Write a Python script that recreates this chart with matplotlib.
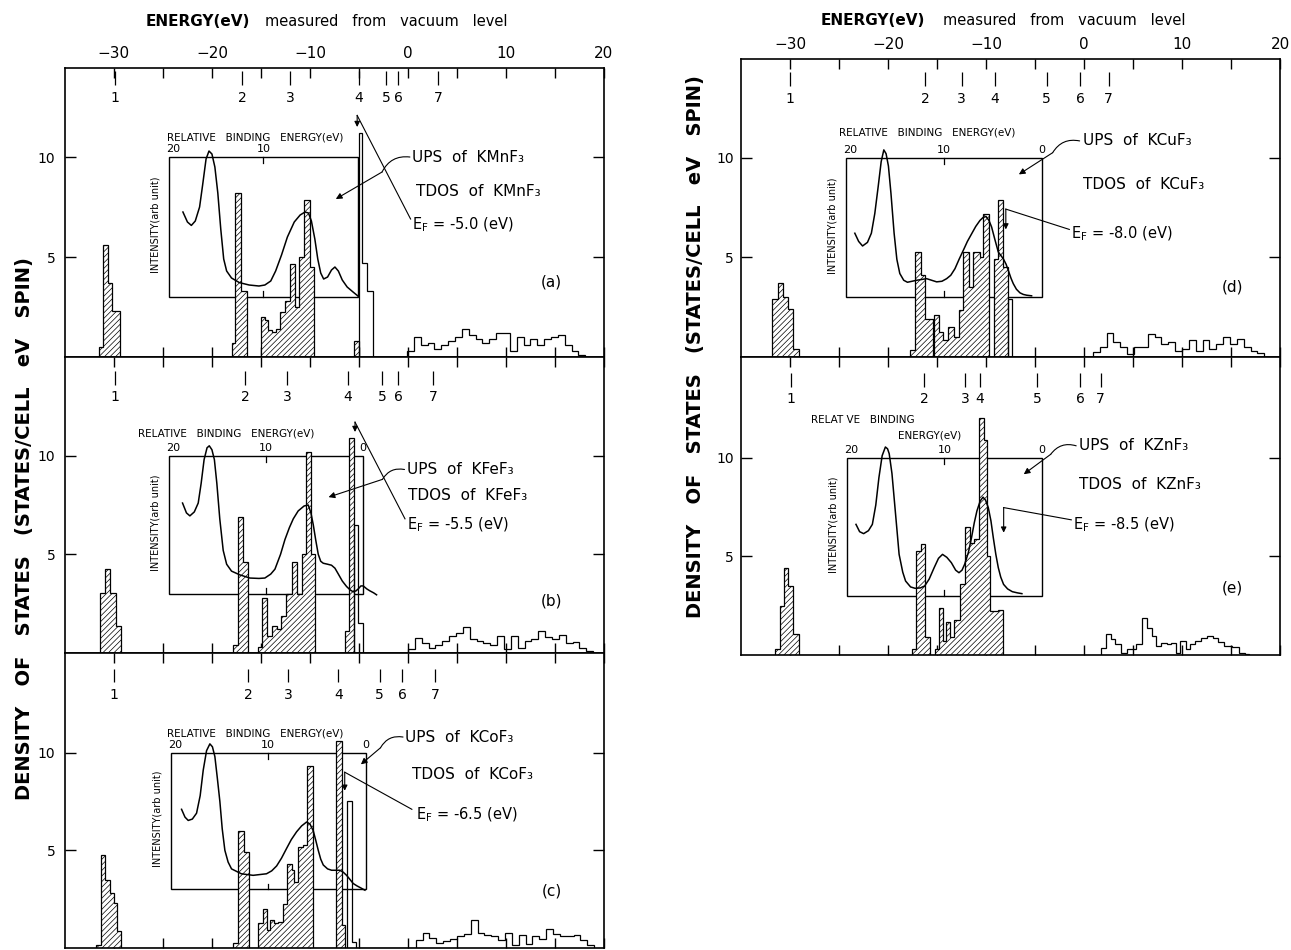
import numpy as np
import matplotlib
matplotlib.use("Agg")
import matplotlib.pyplot as plt
from matplotlib.patches import Rectangle

plt.rcParams['font.family'] = ['DejaVu Sans']
plt.rcParams['hatch.linewidth'] = 0.5
plt.rcParams['axes.linewidth'] = 1.2

# =========================================================
# DATA  (energy in eV from vacuum level, DOS in states/cell eV spin)
# =========================================================

# ---- (a) KMnF3
a_occ_edges = [-31.5, -31.1, -30.6, -30.2, -29.4,
               -18.0, -17.6, -17.0, -16.4,
               -15.0, -14.56, -14.29, -13.84, -13.44, -13.03, -12.59, -12.01, -11.5, -11.16,
               -10.61, -10.03, -9.59,
               -5.5, -5.0]
a_occ_dos = [0.5, 5.6, 3.7, 2.3, 0,
             0.7, 8.2, 3.3, 0,
             2.0, 1.83, 1.33, 1.25, 1.42, 2.25, 2.8, 4.67, 2.5, 5.0, 7.83, 4.5, 0,
             0.8]
a_emp_edges = [-5.0, -4.7, -4.2, -3.55,
               -0.1, 0.6, 1.3, 2.0, 2.7, 3.4, 4.1, 4.8, 5.5, 6.2, 6.9, 7.6, 8.3, 9.0, 9.7,
               10.4, 11.1, 11.8, 12.5, 13.2, 13.9, 14.6, 15.3, 16.0, 16.7, 17.4, 18.1]
a_emp_dos = [11.2, 4.7, 3.3, 0,
             0.3, 1.0, 0.6, 0.7, 0.4, 0.6, 0.8, 1.0, 1.4, 1.1, 0.9, 0.7, 0.9, 1.2, 1.2,
             0.3, 1.0, 0.6, 0.9, 0.6, 0.9, 1.0, 1.1, 0.6, 0.3, 0.1]
a_ups_e = [-22.96, -22.5, -22.1, -21.7, -21.26, -20.95, -20.6, -20.3, -20.0, -19.7, -19.4,
           -19.1, -18.8, -18.5, -18.0, -17.2, -16.2, -15.2, -14.6, -14.0, -13.5, -12.9,
           -12.3, -11.6, -11.0, -10.5, -10.15, -9.85, -9.5, -9.2, -8.9, -8.6, -8.2, -7.8,
           -7.45, -7.1, -6.7, -6.2, -5.6, -5.1]
a_ups_i = [7.25, 6.75, 6.58, 6.8, 7.5, 8.6, 9.9, 10.3, 10.15, 9.5, 8.2,
           6.4, 4.9, 4.3, 3.95, 3.72, 3.6, 3.55, 3.6, 3.8, 4.3, 5.1,
           6.0, 6.75, 7.1, 7.25, 7.2, 6.8, 5.9, 4.9, 4.2, 3.9, 4.0, 4.35,
           4.5, 4.3, 3.85, 3.5, 3.25, 3.05]
a_marks = [-29.9, -16.9, -12.05, -5.0, -2.2, -1.0, 3.1]

# ---- (b) KFeF3
b_occ_edges = [-31.4, -30.9, -30.4, -29.8, -29.3,
               -17.85, -17.3, -16.8, -16.3,
               -15.3, -14.87, -14.36, -13.85, -13.4, -12.96, -12.49, -11.87, -11.36, -10.85,
               -10.42, -9.9, -9.45,
               -6.4, -6.0, -5.5]
b_occ_dos = [3.05, 4.24, 3.05, 1.36, 0,
             0.4, 6.9, 4.6, 0,
             0.3, 2.8, 0.85, 1.35, 1.2, 1.9, 3.0, 4.6, 3.0, 5.0, 10.2, 5.0, 0,
             1.1, 10.9]
b_emp_edges = [-5.5, -5.05, -4.6,
               0.0, 0.7, 1.4, 2.1, 2.8, 3.5, 4.2, 4.9, 5.6, 6.3, 7.0, 7.7, 8.4, 9.1, 9.8,
               10.5, 11.2, 11.9, 12.6, 13.3, 14.0, 14.7, 15.4, 16.1, 16.8, 17.5, 18.2, 18.9]
b_emp_dos = [6.5, 1.5, 0,
             0.2, 0.75, 0.5, 0.25, 0.4, 0.6, 0.85, 1.0, 1.3, 0.7, 0.6, 0.5, 0.4, 0.85,
             0.2, 0.85, 0.25, 0.6, 0.7, 1.1, 0.8, 0.7, 0.9, 0.5, 0.55, 0.25, 0.1]
b_ups_e = [-23.0, -22.6, -22.25, -21.8, -21.4, -21.1, -20.8, -20.5, -20.27, -20.0, -19.75,
           -19.5, -19.2, -18.85, -18.5, -18.0, -17.15, -16.13, -15.2, -14.6, -14.0, -13.57,
           -13.0, -12.55, -12.1, -11.7, -11.2, -10.6, -10.17, -9.9, -9.66, -9.4, -9.15,
           -8.9, -8.64, -8.2, -7.8, -7.45, -7.1, -6.7, -6.26, -5.9, -5.58, -5.3, -5.07,
           -4.8, -4.56, -4.2, -3.88, -3.5, -3.2]
b_ups_i = [7.6, 7.1, 6.95, 7.15, 7.6, 8.6, 9.8, 10.4, 10.5, 10.3, 9.8,
           8.6, 6.8, 5.2, 4.5, 4.15, 3.96, 3.8, 3.78, 3.8, 4.0, 4.25,
           5.0, 5.75, 6.35, 6.8, 7.2, 7.45, 7.5, 7.1, 6.5, 5.7, 5.0,
           4.65, 4.55, 4.5, 4.45, 4.3, 4.0, 3.65, 3.37, 3.2, 3.1, 3.15, 3.25,
           3.4, 3.4, 3.25, 3.15, 3.05, 2.95]
b_marks = [-29.9, -16.6, -12.3, -6.1, -2.6, -1.0, 2.6]

# ---- (c) KCoF3
c_occ_edges = [-31.85, -31.35, -30.9, -30.45, -30.0, -29.7, -29.3,
               -17.9, -17.35, -16.75, -16.2,
               -15.28, -14.77, -14.36, -14.09, -13.68, -13.24, -12.73, -12.32, -11.87, -11.64,
               -11.2, -10.69, -10.28, -9.65,
               -7.3, -6.7, -6.4]
c_occ_dos = [0.17, 4.75, 3.47, 2.8, 2.3, 0.85, 0,
             0.25, 6.0, 4.9, 0,
             1.26, 2.02, 0.92, 1.43, 1.26, 1.34, 2.27, 4.3, 4.0, 3.4, 5.17, 5.25, 9.33, 0,
             10.6, 1.2]
c_emp_edges = [-6.25, -5.75, -5.3,
               0.8, 1.5, 2.2, 2.9, 3.6, 4.3, 5.0, 5.7, 6.4, 7.1, 7.8, 8.5, 9.2, 9.9, 10.6,
               11.3, 12.0, 12.7, 13.4, 14.1, 14.8, 15.5, 16.2, 16.9, 17.6, 18.3, 19.0]
c_emp_dos = [7.5, 0.3, 0,
             0.4, 0.75, 0.5, 0.25, 0.35, 0.45, 0.6, 0.7, 1.45, 0.75, 0.68, 0.6, 0.4, 0.75,
             0.15, 0.65, 0.2, 0.6, 0.45, 0.95, 0.7, 0.62, 0.6, 0.68, 0.4, 0.15]
c_ups_e = [-23.1, -22.75, -22.42, -22.0, -21.57, -21.2, -20.89, -20.55, -20.21, -19.95,
           -19.7, -19.45, -19.19, -18.95, -18.68, -18.35, -18.0, -17.0, -15.8, -14.43,
           -13.9, -13.4, -12.9, -12.38, -11.9, -11.36, -10.85, -10.34, -10.0, -9.66, -9.4,
           -9.15, -8.9, -8.64, -8.2, -7.79, -7.3, -6.94, -6.6, -6.26, -5.9, -5.58, -5.2,
           -4.9, -4.39]
c_ups_i = [7.1, 6.7, 6.53, 6.6, 6.9, 7.8, 9.1, 10.1, 10.45, 10.3,
           9.8, 8.7, 7.5, 6.1, 5.0, 4.4, 4.05, 3.8, 3.72, 3.8,
           3.95, 4.2, 4.6, 5.1, 5.55, 5.95, 6.25, 6.45, 6.35, 6.0, 5.5,
           5.0, 4.55, 4.25, 4.05, 3.98, 3.98, 3.98, 3.88, 3.72, 3.5, 3.3, 3.18,
           3.1, 2.96]
c_marks = [-30.0, -16.3, -12.2, -7.1, -2.9, -0.6, 2.8]

# ---- (d) KCuF3
d_occ_edges = [-31.83, -31.25, -30.74, -30.19, -29.69, -29.1,
               -17.76, -17.25, -16.67, -16.23, -15.45, -15.31, -14.77, -14.36, -13.85,
               -13.27, -12.73, -12.32, -11.7, -11.37, -10.62, -10.28, -9.66, -9.19, -8.74,
               -8.24, -7.73]
d_occ_dos = [2.93, 3.72, 3.0, 2.4, 0.4, 0,
             0.35, 5.27, 4.1, 1.93, 0, 2.1, 1.27, 0.85, 1.52, 1.02, 2.35, 5.27, 3.52,
             5.27, 5.0, 7.18, 0, 4.93, 7.88, 4.52]
d_emp_edges = [-7.73, -7.39,
               0.9, 1.6, 2.3, 3.0, 3.7, 4.4, 5.1, 5.8, 6.5, 7.2, 7.9, 8.6, 9.3, 10.0, 10.7,
               11.4, 12.1, 12.8, 13.5, 14.2, 14.9, 15.6, 16.3, 17.0, 17.7, 18.4]
d_emp_dos = [2.9, 0,
             0.25, 0.5, 1.2, 0.74, 0.49, 0.15, 0.49, 0.5, 1.16, 1.0, 0.66, 0.74, 0.32, 0.4,
             0.83, 0.32, 0.83, 0.4, 0.66, 1.0, 0.66, 0.9, 0.49, 0.32, 0.18]
d_ups_e = [-23.39, -23.0, -22.6, -22.1, -21.7, -21.35, -21.0, -20.7, -20.43, -20.2, -19.96,
           -19.7, -19.38, -19.1, -18.8, -18.4, -18.02, -17.08, -16.06, -15.04, -14.5,
           -14.02, -13.6, -13.17, -12.75, -12.32, -11.9, -11.47, -11.05, -10.62, -10.3,
           -10.0, -9.7, -9.43, -9.1, -8.75, -8.5, -8.24, -7.95, -7.73, -7.45, -7.22, -6.9,
           -6.54, -6.2, -5.85, -5.35]
d_ups_i = [6.21, 5.8, 5.57, 5.75, 6.21, 7.2, 8.57, 9.8, 10.39, 10.2, 9.58,
           8.2, 6.21, 4.9, 4.19, 3.85, 3.75, 3.85, 3.93, 3.77, 3.8,
           3.93, 4.1, 4.43, 4.9, 5.35, 5.8, 6.18, 6.55, 6.85, 7.0,
           7.05, 6.85, 6.52, 5.9, 5.27, 5.1, 4.93, 4.65, 4.35, 3.95, 3.68, 3.4,
           3.22, 3.14, 3.1, 3.07]
d_marks = [-30.0, -16.2, -12.5, -9.1, -3.8, -0.4, 2.5]

# ---- (e) KZnF3
e_occ_edges = [-31.56, -31.05, -30.66, -30.16, -29.69, -29.1,
               -17.59, -17.15, -16.67, -16.23, -15.72,
               -15.2, -14.77, -14.36, -14.09, -13.68, -13.27, -12.66, -12.15, -11.64, -11.23,
               -10.68, -10.21, -9.87, -9.6, -8.74, -8.3]
e_occ_dos = [0.29, 2.48, 4.39, 3.5, 1.08, 0,
             0.29, 5.28, 5.62, 0.9, 0,
             0.3, 2.4, 0.7, 1.65, 0.9, 1.75, 3.6, 6.5, 5.7, 5.9, 12.0, 10.9, 5.0, 2.25, 2.3]
e_emp_edges = [1.75, 2.22, 2.8, 3.19, 3.77, 4.36, 5.33, 5.91, 6.42, 6.89, 7.35, 7.86, 8.44,
               8.91, 9.42, 9.81, 10.39, 10.78, 11.36, 11.95, 12.53, 13.11, 13.7, 14.28, 15.06,
               15.84, 16.42, 16.81]
e_emp_dos = [0.35, 1.05, 0.79, 0.54, 0.12, 0.3, 0.54, 1.89, 1.39, 0.96, 0.46, 0.63, 0.54,
             0.63, 0.12, 0.71, 0.29, 0.54, 0.71, 0.84, 0.96, 0.84, 0.67, 0.46, 0.41, 0.12, 0.03]
e_ups_e = [-23.27, -22.9, -22.49, -22.0, -21.6, -21.25, -20.93, -20.6, -20.27, -20.05, -19.88,
           -19.6, -19.38, -19.1, -18.87, -18.5, -18.21, -17.7, -17.24, -16.7, -16.26, -15.8,
           -15.29, -14.85, -14.44, -14.0, -13.54, -13.1, -12.76, -12.45, -12.18, -11.8,
           -11.48, -11.2, -10.93, -10.6, -10.31, -10.05, -9.77, -9.5, -9.26, -9.0, -8.75,
           -8.5, -8.21, -7.8, -7.32, -6.8, -6.34]
e_ups_i = [6.62, 6.25, 6.15, 6.3, 6.62, 7.6, 8.99, 10.1, 10.54, 10.45, 10.2,
           9.2, 7.97, 6.4, 5.1, 4.2, 3.75, 3.45, 3.38, 3.4, 3.5, 3.85,
           4.43, 4.9, 5.1, 4.95, 4.68, 4.3, 4.17, 4.3, 4.6, 5.2,
           5.95, 6.7, 7.3, 7.8, 8.0, 7.85, 7.47, 6.8, 5.95, 5.1, 4.43,
           3.95, 3.58, 3.35, 3.21, 3.15, 3.11]
e_marks = [-29.9, -16.3, -12.1, -10.6, -4.8, -0.4, 1.7]

compounds = ['KMnF\u2083', 'KFeF\u2083', 'KCoF\u2083', 'KCuF\u2083', 'KZnF\u2083']
fermi = ['-5.0', '-5.5', '-6.5', '-8.0', '-8.5']
letters = ['(a)', '(b)', '(c)', '(d)', '(e)']

# =========================================================
# LAYOUT
# =========================================================
fig = plt.figure(figsize=(12.91, 9.5), dpi=100)
ax_a = fig.add_axes([0.0503, 0.6242, 0.4175, 0.3042])
ax_b = fig.add_axes([0.0503, 0.3126, 0.4175, 0.3116])
ax_c = fig.add_axes([0.0503, 0.0021, 0.4175, 0.3105])
ax_d = fig.add_axes([0.5740, 0.6242, 0.4175, 0.3137])
ax_e = fig.add_axes([0.5740, 0.3105, 0.4175, 0.3137])

panels = [
    dict(ax=ax_a, occ=(a_occ_edges, a_occ_dos), emp=(a_emp_edges, a_emp_dos),
         ups=(a_ups_e, a_ups_i), marks=a_marks, ytop=14.45, box=(-24.4, -5.1),
         title_xy=(-24.6, 11.0), show0=False,
         txt=[(0.45, 10.0), (0.8, 8.3), (0.45, 6.6)], lab=(14.6, 3.75),
         ups_lead=[(0.2, 10.0), (-2.64, 9.25), (-7.36, 7.9)],
         ef_lead=[(0.27, 6.9), (-5.18, 12.08), 11.5], top=True, left=True),
    dict(ax=ax_b, occ=(b_occ_edges, b_occ_dos), emp=(b_emp_edges, b_emp_dos),
         ups=(b_ups_e, b_ups_i), marks=b_marks, ytop=15.0, box=(-24.4, -4.6),
         title_xy=(-27.5, 11.1), show0=True,
         txt=[(-0.09, 9.32), (0.02, 7.97), (-0.09, 6.5)], lab=(14.6, 2.65),
         ups_lead=[(-0.35, 9.3), (-2.6, 8.8), (-8.1, 7.9)],
         ef_lead=[(-0.3, 6.8), (-5.4, 11.7), 11.2], top=False, left=True),
    dict(ax=ax_c, occ=(c_occ_edges, c_occ_dos), emp=(c_emp_edges, c_emp_dos),
         ups=(c_ups_e, c_ups_i), marks=c_marks, ytop=15.1, box=(-24.2, -4.3),
         title_xy=(-24.6, 11.0), show0=True,
         txt=[(-0.27, 10.8), (0.45, 8.9), (0.8, 6.8)], lab=(14.7, 2.9),
         ups_lead=[(-0.5, 10.8), (-2.8, 10.25), (-4.8, 9.4)],
         ef_lead=[(0.4, 7.1), (-6.45, 9.0), 8.05], top=False, left=True),
    dict(ax=ax_d, occ=(d_occ_edges, d_occ_dos), emp=(d_emp_edges, d_emp_dos),
         ups=(d_ups_e, d_ups_i), marks=d_marks, ytop=14.95, box=(-24.3, -4.3),
         title_xy=(-25.0, 11.25), show0=True,
         txt=[(-0.12, 10.84), (-0.12, 8.65), (-1.28, 6.2)], lab=(15.1, 3.5),
         ups_lead=[(-0.45, 10.84), (-3.2, 10.25), (-6.65, 9.16)],
         ef_lead=[(-1.5, 6.4), (-7.98, 7.42), 6.4], top=True, left=False),
    dict(ax=ax_e, occ=(e_occ_edges, e_occ_dos), emp=(e_emp_edges, e_emp_dos),
         ups=(e_ups_e, e_ups_i), marks=e_marks, ytop=15.1, box=(-24.2, -4.3),
         title_xy=None, show0=True,
         txt=[(-0.5, 10.6), (-0.5, 8.65), (-1.1, 6.6)], lab=(15.1, 3.4),
         ups_lead=[(-0.8, 10.6), (-3.4, 10.17), (-6.15, 9.16)],
         ef_lead=[(-1.3, 6.85), (-8.2, 7.47), 6.2], top=False, left=False),
]

xtick_vals = np.arange(-30, 21, 5)
xtick_labs = ['\u221230', '', '\u221220', '', '\u221210', '', '0', '', '10', '', '20']

for k, p in enumerate(panels):
    ax = p['ax']
    ax.set_xlim(-35, 20)
    ax.set_ylim(0, p['ytop'])

    # TDOS histograms
    ax.stairs(p['occ'][1], p['occ'][0], fill=True, baseline=0, facecolor='white',
              edgecolor='black', hatch='//////', linewidth=0.9, zorder=2)
    ax.stairs(p['emp'][1], p['emp'][0], fill=False, baseline=0, edgecolor='black',
              linewidth=0.9, zorder=2)

    # inset UPS box
    bl, br = p['box']
    bm = 0.5 * (bl + br)
    ax.add_patch(Rectangle((bl, 3), br - bl, 7, fill=False, edgecolor='black', lw=1.0, zorder=1))
    ax.plot([bm, bm], [10, 9.7], color='black', lw=0.9, zorder=1)
    ax.plot([bm, bm], [3, 3.3], color='black', lw=0.9, zorder=1)
    ax.plot(p['ups'][0], p['ups'][1], color='black', lw=1.1, zorder=3)
    ax.text(bl + 0.4, 10.15, '20', fontsize=8, ha='center', va='bottom')
    ax.text(bm, 10.15, '10', fontsize=8, ha='center', va='bottom')
    if p['show0']:
        ax.text(br, 10.15, '0', fontsize=8, ha='center', va='bottom')
    if p['title_xy'] is not None:
        ax.text(p['title_xy'][0], p['title_xy'][1], 'RELATIVE   BINDING   ENERGY(eV)',
                fontsize=7.5, ha='left', va='center')
    else:
        ax.text(-27.9, 11.9, 'RELAT VE   BINDING', fontsize=7.5, ha='left', va='center')
        ax.text(-19.0, 11.1, 'ENERGY(eV)', fontsize=7.5, ha='left', va='center')
    ax.text(bl - 1.35, 6.6, 'INTENSITY(arb unit)', fontsize=7, rotation=90,
            ha='center', va='center')

    # level markers 1..7
    ax.vlines(p['marks'], 13.6, 14.3, color='black', lw=0.9)
    for i, m in enumerate(p['marks']):
        ax.text(m, 12.95, str(i + 1), fontsize=10, ha='center', va='center')

    # annotations
    (x1, y1), (x2, y2), (x3, y3) = p['txt']
    ax.text(x1, y1, 'UPS  of  ' + compounds[k], fontsize=11, ha='left', va='center')
    ax.text(x2, y2, 'TDOS  of  ' + compounds[k], fontsize=11, ha='left', va='center')
    ax.text(x3, y3, r'$\mathrm{E_F}$ = ' + fermi[k] + ' (eV)', fontsize=10.5,
            ha='left', va='center')
    ax.text(p['lab'][0], p['lab'][1], letters[k], fontsize=11, ha='center', va='center')

    s0, s1, s2 = p['ups_lead']
    ax.annotate('', xy=s1, xytext=s0,
                arrowprops=dict(arrowstyle='-', lw=0.8, color='black',
                                connectionstyle='arc3,rad=0.35', shrinkA=0, shrinkB=0))
    ax.annotate('', xy=s2, xytext=s1,
                arrowprops=dict(arrowstyle='-|>', lw=0.8, color='black', mutation_scale=9,
                                shrinkA=0, shrinkB=0))
    e0, e1, ey = p['ef_lead']
    ax.plot([e0[0], e1[0]], [e0[1], e1[1]], color='black', lw=0.8, zorder=3)
    ax.annotate('', xy=(e1[0], ey), xytext=e1,
                arrowprops=dict(arrowstyle='-|>', lw=0.8, color='black', mutation_scale=8,
                                shrinkA=0, shrinkB=0))

    # axes ticks
    ax.set_xticks(xtick_vals)
    ax.tick_params(axis='x', direction='in', top=True, bottom=True, length=7, width=1.0,
                   labelbottom=False, labeltop=p['top'], labelsize=11, pad=5)
    if p['top']:
        ax.set_xticklabels(xtick_labs)
    ax.set_yticks([5, 10])
    ax.set_yticklabels(['5', '10'])
    ax.tick_params(axis='y', direction='in', left=True, right=True, length=8, width=1.0,
                   labelsize=10, pad=7 if p['left'] else 5)

# titles above top panels
ax_a.text(0.343, 1.16, 'ENERGY(eV)', transform=ax_a.transAxes, fontsize=11,
          fontweight='bold', ha='right', va='center')
ax_a.text(0.371, 1.16, 'measured   from   vacuum   level', transform=ax_a.transAxes,
          fontsize=10.5, ha='left', va='center')
ax_d.text(0.341, 1.13, 'ENERGY(eV)', transform=ax_d.transAxes, fontsize=11,
          fontweight='bold', ha='right', va='center')
ax_d.text(0.375, 1.13, 'measured   from   vacuum   level', transform=ax_d.transAxes,
          fontsize=10.5, ha='left', va='center')

ylab = 'DENSITY   OF   STATES   (STATES/CELL   eV   SPIN)'
fig.text(0.019, 0.444, ylab, rotation=90, fontsize=14, fontweight='bold',
         ha='center', va='center')
fig.text(0.539, 0.635, ylab, rotation=90, fontsize=14, fontweight='bold',
         ha='center', va='center')

fig.savefig('out.png', dpi=100)
